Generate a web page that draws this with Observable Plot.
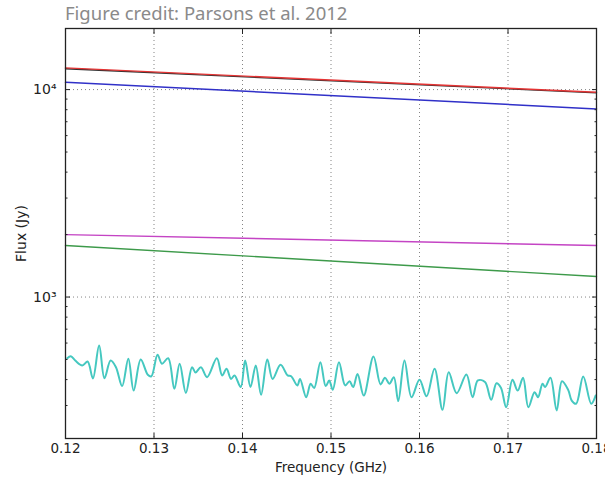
<!DOCTYPE html>
<html><head><meta charset="utf-8">
<script src="https://cdn.jsdelivr.net/npm/d3@7"></script>
<script src="https://cdn.jsdelivr.net/npm/@observablehq/plot@0.6"></script>
<style>
body{margin:0;background:#fff;width:605px;height:478px;overflow:hidden;position:relative}
#title{position:absolute;left:65px;top:2px;font-family:"Noto Sans";font-size:18.5px;line-height:22px;color:#8a8a8a;white-space:nowrap}
#chart{position:absolute;left:0;top:27px}
</style></head><body>
<div id="title">Figure credit: Parsons et al. 2012</div>
<div id="chart"></div>
<script>
// data
const lineFreqs = [0.12, 0.18];
const redFlux = [12725, 9706];
const blackFlux = [12600, 9650];
const blueFlux = [10844, 8072];
const magentaFlux = [2000, 1771];
const greenFlux = [1771, 1256];
const cyanFreq = [0.1202,0.1206,0.1211,0.1219,0.1225,0.1231,0.1238,0.1244,0.1251,0.1257,0.1264,0.1271,0.1277,0.1285,0.1293,0.1297,0.1304,0.1309,0.1316,0.1323,0.1329,0.1336,0.1343,0.1347,0.1353,0.1360,0.1371,0.1377,0.1382,0.1387,0.1391,0.1398,0.1403,0.1409,0.1415,0.1421,0.1428,0.1434,0.1443,0.1451,0.1455,0.1462,0.1465,0.1472,0.1477,0.1481,0.1488,0.1494,0.1498,0.1502,0.1509,0.1516,0.1521,0.1525,0.1530,0.1537,0.1548,0.1556,0.1561,0.1566,0.1571,0.1576,0.1583,0.1591,0.1600,0.1608,0.1617,0.1626,0.1633,0.1642,0.1653,0.1660,0.1666,0.1674,0.1681,0.1687,0.1692,0.1698,0.1705,0.1711,0.1717,0.1723,0.1730,0.1734,0.1739,0.1742,0.1748,0.1755,0.1761,0.1768,0.1772,0.1777,0.1785,0.1794,0.1799];
const cyanFlux = [507,518,494,468,489,405,584,406,494,459,372,504,354,500,422,415,527,477,507,361,477,345,459,433,459,411,507,419,451,403,419,368,494,368,468,338,500,403,471,419,415,375,403,329,382,364,485,372,396,357,485,375,393,368,426,335,517,379,408,382,411,315,494,329,399,332,451,286,434,344,423,329,396,389,320,384,365,294,399,354,408,294,348,329,382,368,408,284,393,357,317,306,414,306,335];
const xTicks = [0.12,0.13,0.14,0.15,0.16,0.17,0.18];
const yMajor = [1000, 10000];
const yMinor = [300,400,500,600,700,800,900,2000,3000,4000,5000,6000,7000,8000,9000];
const yLabels = {1000: "10³", 10000: "10⁴"};

const mk = (vals) => lineFreqs.map((f, i) => ({f, v: vals[i]}));
const cyan = cyanFreq.map((f, i) => ({f, v: cyanFlux[i]}));
const noText = () => "";
const tickStyle = {label: null, tickFormat: noText, stroke: "#222"};

const plot = Plot.plot({
  width: 605, height: 451,
  marginTop: 1, marginBottom: 40, marginLeft: 65, marginRight: 9,
  style: {fontFamily: "DejaVu Sans", fontSize: "13.5px", color: "#222", background: "white", overflow: "visible"},
  x: {domain: [0.12, 0.18]},
  y: {type: "log", domain: [208, 19700]},
  marks: [
    Plot.gridX(xTicks.slice(1, -1), {stroke: "#777", strokeOpacity: 0.9, strokeDasharray: "1,3"}),
    Plot.gridY(yMajor, {stroke: "#777", strokeOpacity: 0.9, strokeDasharray: "1,3"}),
    Plot.line(cyan, {x: "f", y: "v", stroke: "#45c8c0", strokeWidth: 2, curve: "catmull-rom"}),
    Plot.line(mk(greenFlux), {x: "f", y: "v", stroke: "#3d9a4a", strokeWidth: 1.4}),
    Plot.line(mk(magentaFlux), {x: "f", y: "v", stroke: "#c444c4", strokeWidth: 1.4}),
    Plot.line(mk(blueFlux), {x: "f", y: "v", stroke: "#3030c8", strokeWidth: 1.5}),
    Plot.line(mk(blackFlux), {x: "f", y: "v", stroke: "#333", strokeWidth: 1.3}),
    Plot.line(mk(redFlux), {x: "f", y: "v", stroke: "#e43434", strokeWidth: 1.4}),
    Plot.frame({stroke: "#222", strokeWidth: 1.3}),
    Plot.axisX(xTicks, {anchor: "bottom", tickSize: -5, ...tickStyle}),
    Plot.axisX(xTicks, {anchor: "top", tickSize: -5, ...tickStyle}),
    Plot.axisY(yMajor, {anchor: "left", tickSize: -5, ...tickStyle}),
    Plot.axisY(yMajor, {anchor: "right", tickSize: -5, ...tickStyle}),
    Plot.axisY(yMinor, {anchor: "left", tickSize: -2.5, ...tickStyle}),
    Plot.axisY(yMinor, {anchor: "right", tickSize: -2.5, ...tickStyle}),
    Plot.axisX(xTicks, {anchor: "bottom", tickSize: 0, tickPadding: 5, tickFormat: d3.format(".2f"),
      label: "Frequency (GHz)", labelAnchor: "center", labelOffset: 33, labelArrow: false, fill: "#222"}),
    Plot.axisY(yMajor, {anchor: "left", tickSize: 0, tickPadding: 9, tickFormat: d => yLabels[d], fontSize: 14,
      label: "Flux (Jy)", labelAnchor: "center", labelOffset: 49, labelArrow: false, fill: "#222"})
  ]
});
document.getElementById("chart").appendChild(plot);
</script>
</body></html>
